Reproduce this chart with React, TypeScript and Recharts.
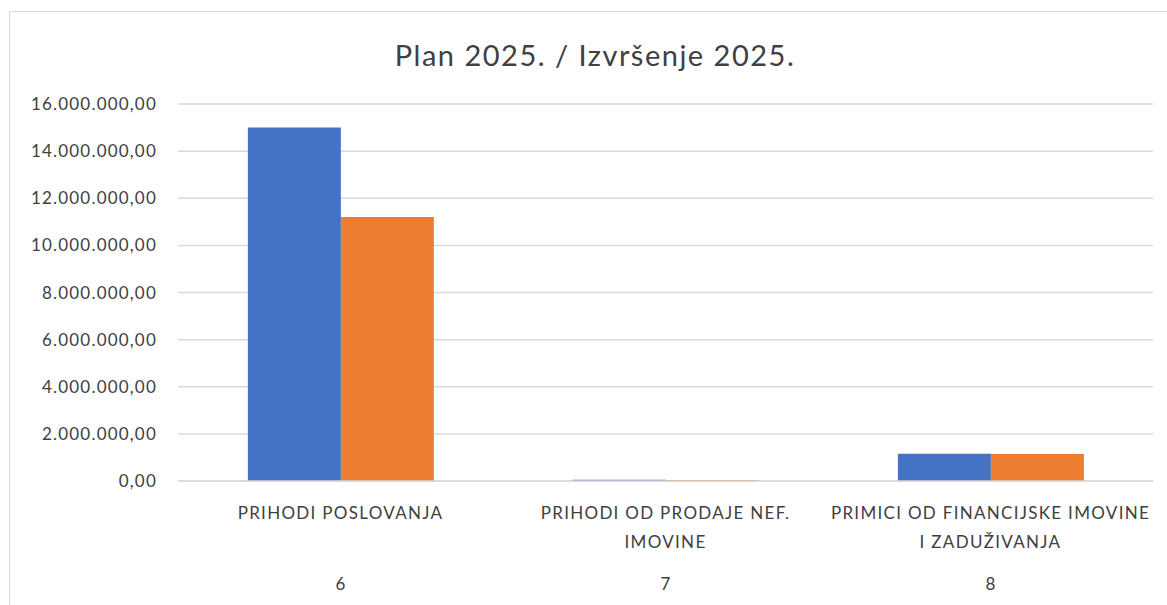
import { Bar, BarChart, CartesianGrid, XAxis, YAxis } from 'recharts';

const codes = ['6', '7', '8'];
const categoryLines = [
  ['PRIHODI POSLOVANJA'],
  ['PRIHODI OD PRODAJE NEF.', 'IMOVINE'],
  ['PRIMICI OD FINANCIJSKE IMOVINE', 'I ZADUŽIVANJA'],
];
const plan2025 = [15000000, 55000, 1160000];
const izvrsenje2025 = [11200000, 45000, 1150000];
const yTicks = [0, 2000000, 4000000, 6000000, 8000000, 10000000, 12000000, 14000000, 16000000];

const data = codes.map((code, i) => ({
  code,
  plan: plan2025[i],
  izvrsenje: izvrsenje2025[i],
}));

const FONT = 'Lato, "Open Sans", sans-serif';
const TEXT = '#404040';

function formatHr(value: number): string {
  const [int, dec] = value.toFixed(2).split('.');
  return int.replace(/\B(?=(\d{3})+(?!\d))/g, '.') + ',' + dec;
}

function CategoryTick(props: any) {
  const { x, y, payload } = props;
  const idx = codes.indexOf(String(payload.value));
  const lines = idx >= 0 ? categoryLines[idx] : [];
  return (
    <g transform={`translate(${x},${y})`}>
      {lines.map((line, i) => (
        <text
          key={i}
          x={0}
          y={i * 29}
          dy="0.35em"
          textAnchor="middle"
          fill={TEXT}
          fontSize={17}
          fontFamily={FONT}
          letterSpacing={1.3}
        >
          {line}
        </text>
      ))}
      <text x={0} y={71} dy="0.35em" textAnchor="middle" fill={TEXT} fontSize={17} fontFamily={FONT}>
        {payload.value}
      </text>
    </g>
  );
}

export default function App() {
  return (
    <div
      style={{
        position: 'fixed',
        left: 0,
        top: 0,
        width: 1167,
        height: 605,
        overflow: 'hidden',
        background: '#fff',
      }}
    >
      <div
        style={{
          position: 'absolute',
          left: 9,
          top: 11,
          width: 1170,
          height: 610,
          border: '1px solid #d9d9d9',
          background: '#fff',
        }}
      >
        <div
          style={{
            position: 'absolute',
            left: 0,
            top: 25,
            width: 1170,
            textAlign: 'center',
            fontFamily: FONT,
            fontSize: 29,
            letterSpacing: 1.5,
            color: TEXT,
          }}
        >
          Plan 2025. / Izvršenje 2025.
        </div>
        <BarChart
          width={1170}
          height={610}
          data={data}
          margin={{ top: 92, right: 27, bottom: 0, left: 0 }}
          barCategoryGap="21.5%"
          barGap={0}
        >
          <CartesianGrid vertical={false} stroke="#d9d9d9" strokeWidth={1.5} />
          <YAxis
            width={168}
            domain={[0, 16000000]}
            ticks={yTicks}
            interval={0}
            axisLine={false}
            tickLine={false}
            tickSize={8}
            tickMargin={13}
            tickFormatter={formatHr}
            tick={{ fill: TEXT, fontSize: 17, fontFamily: FONT, letterSpacing: 1.2 }}
          />
          <XAxis
            dataKey="code"
            height={141}
            axisLine={{ stroke: '#d9d9d9', strokeWidth: 1.5 }}
            tickLine={false}
            tickSize={0}
            tickMargin={32}
            interval={0}
            tick={<CategoryTick />}
          />
          <Bar dataKey="plan" name="Plan 2025." fill="#4472C4" isAnimationActive={false} />
          <Bar dataKey="izvrsenje" name="Izvršenje 2025." fill="#ED7D31" isAnimationActive={false} />
        </BarChart>
      </div>
    </div>
  );
}
